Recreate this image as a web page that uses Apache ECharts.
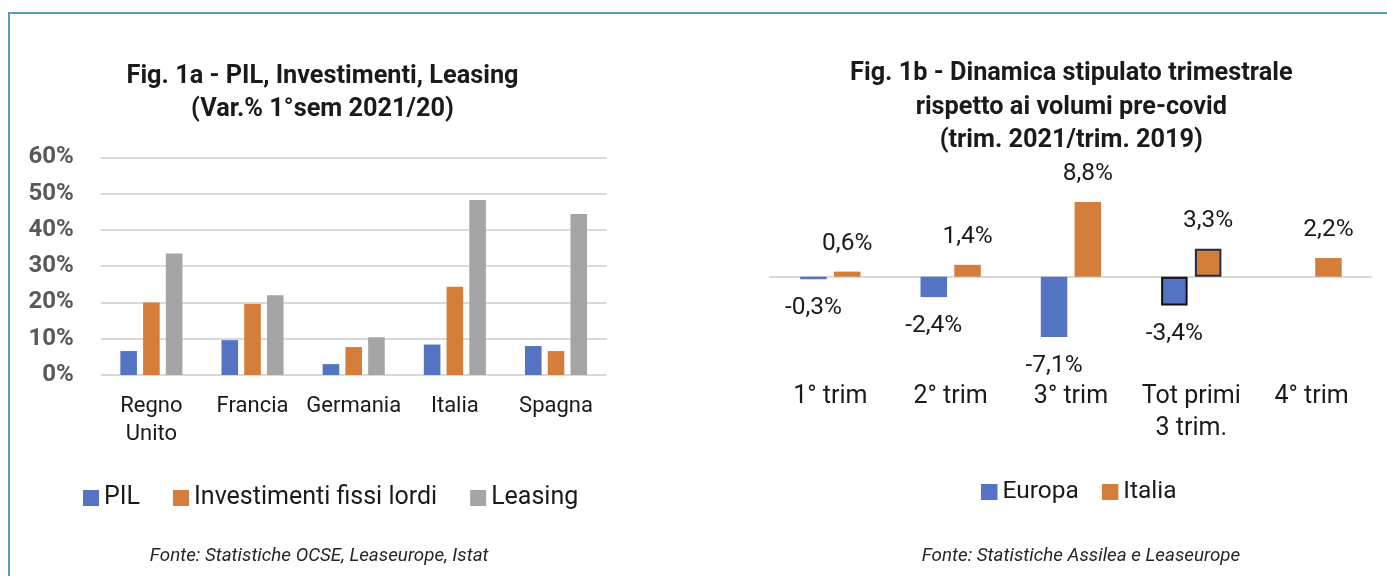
<!DOCTYPE html>
<html lang="it">
<head>
<meta charset="UTF-8">
<title>Fig. 1a - Fig. 1b</title>
<script src="https://cdn.jsdelivr.net/npm/echarts@6/dist/echarts.min.js"></script>
<style>
    html, body { margin: 0; padding: 0; background: #fff; overflow: hidden; }
    #cornice { position: absolute; left: 8px; top: 12px; width: 1400px; height: 600px;
               border-left: 2.5px solid #5b9cba; border-top: 2.5px solid #5b9cba; }
    #grafico { position: absolute; left: 0; top: 0; width: 1387px; height: 576px; }
</style>
</head>
<body>
<div id="cornice"></div>
<div id="grafico"></div>
<script>
// Fig. 1a
var paesi = ['Regno\nUnito', 'Francia', 'Germania', 'Italia', 'Spagna'];
var pil = [6.6, 9.6, 3.0, 8.4, 8.0];
var investimenti = [20.0, 19.6, 7.7, 24.3, 6.6];
var leasing = [33.5, 22.0, 10.4, 48.2, 44.4];
var assePct = [0, 60, 10]; // min, max, passo

// Fig. 1b
var trimestri = ['1° trim', '2° trim', '3° trim', 'Tot primi\n3 trim.', '4° trim'];
var europa = [-0.3, -2.4, -7.1, -3.4, null];
var italia = [0.6, 1.4, 8.8, 3.3, 2.2];

var blu = '#5573c3', arancio = '#d57d3b', grigio = '#a5a5a5';
var nero = '#1a1a1a';
var font = 'Roboto';

function virgola(v) {
    return v.toFixed(1).replace('.', ',') + '%';
}
// la colonna "Tot primi 3 trim." ha il bordo scuro
function conBordo(arr, colore) {
    return arr.map(function (v, i) {
        if (i === 3 && v !== null) {
            return { value: v, itemStyle: { borderColor: colore, borderWidth: 2 } };
        }
        return v;
    });
}
function testo(x, y, t, extra) {
    var st = { text: t, textAlign: 'center', textVerticalAlign: 'top', fontFamily: font, fill: nero };
    for (var k in extra) st[k] = extra[k];
    return { type: 'text', x: x, y: y, style: st };
}

var chart = echarts.init(document.getElementById('grafico'));

var option = {
    animation: false,
    textStyle: { fontFamily: font },
    graphic: [
        testo(322.5, 60, 'Fig. 1a - PIL, Investimenti, Leasing\n(Var.% 1°sem 2021/20)',
              { fontSize: 25.3, fontWeight: 'bold', lineHeight: 33 }),
        testo(1071.3, 57, 'Fig. 1b - Dinamica stipulato trimestrale\nrispetto ai volumi pre-covid\n(trim. 2021/trim. 2019)',
              { fontSize: 25.3, fontWeight: 'bold', lineHeight: 33.5 }),
        testo(319.2, 556, 'Fonte: Statistiche OCSE, Leaseurope, Istat',
              { fontSize: 18.8, fontStyle: 'italic', textVerticalAlign: 'middle', fill: '#262626' }),
        testo(1081, 556.5, 'Fonte: Statistiche Assilea e Leaseurope',
              { fontSize: 18.8, fontStyle: 'italic', textVerticalAlign: 'middle', fill: '#262626' })
    ],
    legend: [
        {
            data: ['PIL', 'Investimenti fissi lordi', 'Leasing'],
            left: 78, top: 478, icon: 'rect', itemWidth: 16, itemHeight: 16, itemGap: 33,
            selectedMode: false,
            textStyle: { fontSize: 25, lineHeight: 30, color: nero, fontFamily: font }
        },
        {
            data: ['Europa', 'Italia'],
            left: 976, top: 472, icon: 'rect', itemWidth: 16.5, itemHeight: 16, itemGap: 23,
            selectedMode: false,
            textStyle: { fontSize: 24.5, lineHeight: 30, color: nero, fontFamily: font }
        }
    ],
    grid: [
        { left: 100.8, top: 157.3, width: 505.8, height: 217.7 },
        { left: 770.2, top: 191.7, width: 601.5, height: 170 }
    ],
    xAxis: [
        {
            type: 'category', gridIndex: 0, data: paesi,
            axisLine: { show: false }, axisTick: { show: false },
            axisLabel: { interval: 0, margin: 17.5, fontSize: 22, lineHeight: 28.3, color: nero }
        },
        {
            // la linea sta sullo zero, le etichette restano sotto la griglia
            type: 'category', gridIndex: 1, data: trimestri,
            axisLine: { onZero: true, lineStyle: { color: '#d9d9d9', width: 2 } },
            axisTick: { show: false },
            axisLabel: { interval: 0, margin: 19, fontSize: 25, lineHeight: 31.7, color: nero }
        }
    ],
    yAxis: [
        {
            type: 'value', gridIndex: 0, min: assePct[0], max: assePct[1], interval: assePct[2],
            axisLine: { show: false }, axisTick: { show: false },
            axisLabel: { formatter: '{value}%', margin: 27, fontSize: 24, fontWeight: 'bold', color: '#595959' },
            splitLine: { lineStyle: { color: '#d9d9d9', width: 2 } }
        },
        {
            type: 'value', gridIndex: 1, min: -10, max: 10,
            axisLine: { show: false }, axisTick: { show: false },
            axisLabel: { show: false }, splitLine: { show: false }
        }
    ],
    series: [
        { name: 'PIL', type: 'bar', xAxisIndex: 0, yAxisIndex: 0, data: pil,
          barWidth: 16.6, barGap: '37%', itemStyle: { color: blu } },
        { name: 'Investimenti fissi lordi', type: 'bar', xAxisIndex: 0, yAxisIndex: 0, data: investimenti,
          barWidth: 16.6, barGap: '37%', itemStyle: { color: arancio } },
        { name: 'Leasing', type: 'bar', xAxisIndex: 0, yAxisIndex: 0, data: leasing,
          barWidth: 16.6, barGap: '37%', itemStyle: { color: grigio } },
        { name: 'Europa', type: 'bar', xAxisIndex: 1, yAxisIndex: 1, data: conBordo(europa, '#111111'),
          barWidth: 26.5, barGap: '27.5%', itemStyle: { color: blu },
          label: { show: true, position: 'bottom', distance: 16, fontSize: 24.5, color: nero,
                   formatter: function (p) { return virgola(p.value); } } },
        { name: 'Italia', type: 'bar', xAxisIndex: 1, yAxisIndex: 1, data: conBordo(italia, '#1f2d4d'),
          barWidth: 26.5, barGap: '27.5%', itemStyle: { color: arancio },
          label: { show: true, position: 'top', distance: 15.5, fontSize: 24.5, color: nero,
                   formatter: function (p) { return virgola(p.value); } } }
    ]
};

chart.setOption(option);
</script>
</body>
</html>
